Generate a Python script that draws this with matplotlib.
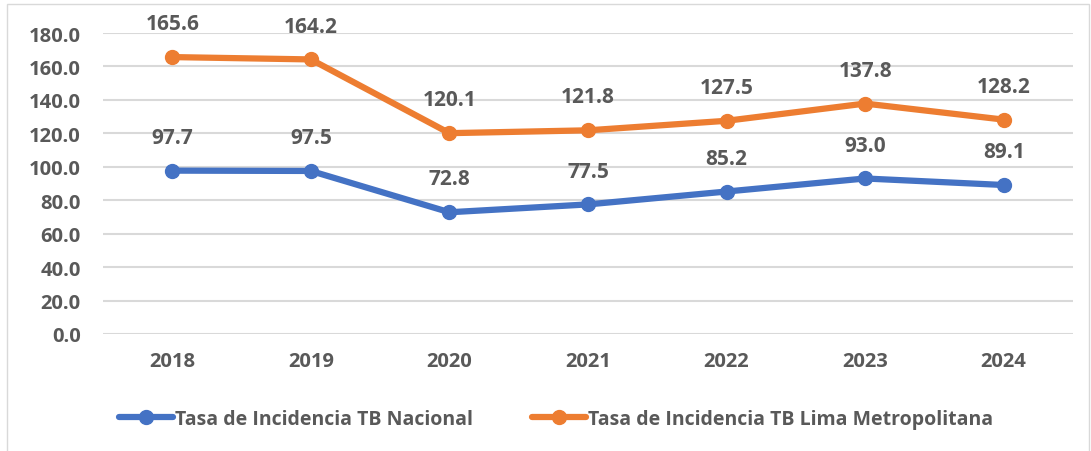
import matplotlib.pyplot as plt
from matplotlib.patches import Rectangle

years = ['2018', '2019', '2020', '2021', '2022', '2023', '2024']
nacional = [97.7, 97.5, 72.8, 77.5, 85.2, 93.0, 89.1]
lima = [165.6, 164.2, 120.1, 121.8, 127.5, 137.8, 128.2]
yticks = [0, 20, 40, 60, 80, 100, 120, 140, 160, 180]

BLUE = '#4472C4'
ORANGE = '#ED7D31'
TXT = '#595959'

plt.rcParams['font.family'] = ['Open Sans', 'DejaVu Sans']
plt.rcParams['font.weight'] = 'bold'

fig = plt.figure(figsize=(10.91, 4.52), dpi=100)
fig.patches.append(Rectangle((7 / 1091, -0.01), 1082 / 1091, 1 - 5 / 452 + 0.01,
                             transform=fig.transFigure, fill=False,
                             edgecolor='#D9D9D9', linewidth=1))
ax = fig.add_axes([103 / 1091, 117 / 452, 970 / 1091, 301 / 452])

x = range(len(years))
ax.plot(x, nacional, color=BLUE, lw=4.5, marker='o', ms=10,
        label='Tasa de Incidencia TB Nacional', solid_capstyle='round')
ax.plot(x, lima, color=ORANGE, lw=4.5, marker='o', ms=10,
        label='Tasa de Incidencia TB Lima Metropolitana', solid_capstyle='round')

for series in (nacional, lima):
    for i, v in enumerate(series):
        ax.annotate(f'{v:.1f}', (i, v), xytext=(0, 24), textcoords='offset points',
                    ha='center', va='center', fontsize=15, color=TXT, fontweight='bold')

ax.set_xlim(-0.5, len(years) - 0.5)
ax.set_ylim(0, 180)
ax.set_yticks(yticks)
ax.set_yticklabels([f'{t:.1f}' for t in yticks])
ax.set_xticks(list(x))
ax.set_xticklabels(years)
ax.tick_params(axis='both', length=0, labelsize=14.5, labelcolor=TXT)
ax.tick_params(axis='y', pad=16)
ax.tick_params(axis='x', pad=12)
ax.grid(axis='y', color='#D9D9D9', lw=1.5)
ax.set_axisbelow(True)
for s in ax.spines.values():
    s.set_visible(False)
for ln in ax.lines:
    ln.set_clip_on(False)

fig.legend(loc='center', bbox_to_anchor=(556 / 1091, 1 - 420 / 452), ncol=2,
           frameon=False, fontsize=14, labelcolor=TXT, handlelength=2.8,
           handletextpad=0.1, columnspacing=3.0)

fig.savefig('out.png', dpi=100)
